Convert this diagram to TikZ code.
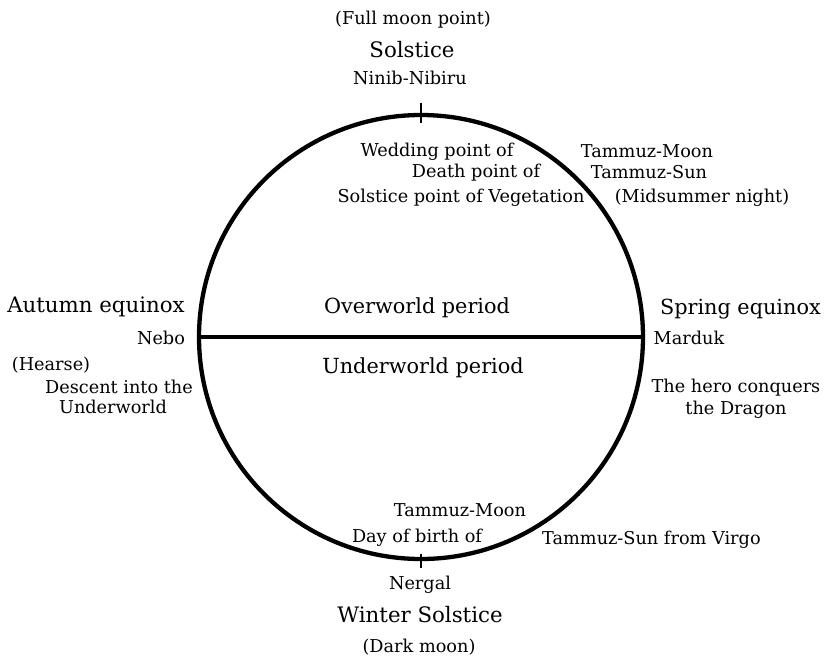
\documentclass[tikz,border=0pt]{standalone}
\usepackage{fontspec}
\setmainfont{DejaVu Serif}
\begin{document}
\begin{tikzpicture}[x=1pt,y=-1pt,
  big/.style={font=\fontsize{21.3}{25}\selectfont, inner sep=0pt},
  mid/.style={font=\fontsize{20.8}{25}\selectfont, inner sep=0pt},
  small/.style={font=\fontsize{17.7}{21}\selectfont, inner sep=0pt},
  ring/.style={draw, circle, line width=4.3pt, minimum size=444pt, inner sep=0pt},
  tick/.style={line width=2.8pt}]
\useasboundingbox (0,0) rectangle (825,657);
\node[ring] (c) at (421,337) {};
\draw[line width=4.3pt] (c.west) -- (c.east);
\draw[tick] ([yshift=10pt]c.north) -- ([yshift=-10pt]c.north);
\draw[tick] ([yshift=7pt]c.south) -- ([yshift=-7pt]c.south);
% top
\node[small] (fullmoon) at (413,20) {(Full moon point)};
\node[big] (solstice) at (412,50) {Solstice};
\node[small] (ninib) at (410,78) {Ninib-Nibiru};
\node[small] (wedding) at (437,152) {Wedding point of};
\node[small] (death) at (476,173) {Death point of};
\node[small] (solpt) at (461,198) {Solstice point of Vegetation};
\node[small] (tmoon1) at (647,151) {Tammuz-Moon};
\node[small] (tsun1) at (649,172) {Tammuz-Sun};
\node[small] (midsummer) at (702,198) {(Midsummer night)};
% left
\node[big] (autumn) at (96,307) {Autumn equinox};
\node[small] (nebo) at (161,338) {Nebo};
\node[small] (hearse) at (51,365) {(Hearse)};
\node[small] (descent) at (119,387) {Descent into the};
\node[small] (underw) at (113,407) {Underworld};
% centre
\node[mid] (overp) at (417,308) {Overworld period};
\node[mid] (underp) at (423,368) {Underworld period};
% right
\node[mid, anchor=east] (spring) at (821,309) {Spring equinox};
\node[small] (marduk) at (689,338) {Marduk};
\node[small] (hero) at (736,388) {The hero conquers};
\node[small] (dragon) at (736,410) {the Dragon};
% bottom
\node[small] (tmoon2) at (460,510) {Tammuz-Moon};
\node[small] (birth) at (417,538) {Day of birth of};
\node[small, anchor=west] (virgo) at (542,540) {Tammuz-Sun from Virgo};
\node[small] (nergal) at (420,585) {Nergal};
\node[big] (winter) at (420,615) {Winter Solstice};
\node[small] (dark) at (419,647) {(Dark moon)};
\end{tikzpicture}
\end{document}
